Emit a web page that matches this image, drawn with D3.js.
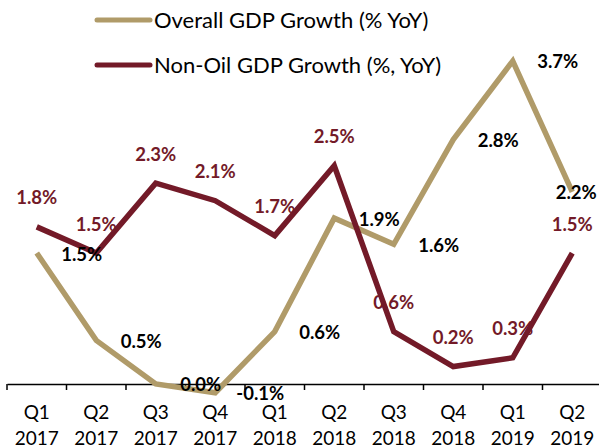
<!DOCTYPE html>
<html>
<head>
<meta charset="utf-8">
<script src="https://cdn.jsdelivr.net/npm/d3@7"></script>
<style>
  body { margin: 0; background: #fff; }
  svg text { font-family: Lato, "Open Sans", sans-serif; }
</style>
</head>
<body>
<div id="chart"></div>
<script>
var quarters = ["Q1", "Q2", "Q3", "Q4", "Q1", "Q2", "Q3", "Q4", "Q1", "Q2"];
var years = ["2017", "2017", "2017", "2017", "2018", "2018", "2018", "2018", "2019", "2019"];
var overallGdp = [1.5, 0.5, 0.0, -0.1, 0.6, 1.9, 1.6, 2.8, 3.7, 2.2];
var nonOilGdp = [1.8, 1.5, 2.3, 2.1, 1.7, 2.5, 0.6, 0.2, 0.3, 1.5];
var seriesNames = ["Overall GDP Growth (% YoY)", "Non-Oil GDP Growth (%, YoY)"];

// label placement per point (like excel data label position)
var overallLabelPos = ["right", "right", "right", "right", "right", "right", "right", "right", "right", "center"];

var width = 599, height = 448;
var gold = "#b09b69", maroon = "#731a28";

var svg = d3.select("#chart").append("svg")
	.attr("width", width)
	.attr("height", height);

var cats = quarters.map(function(q, i) { return i; });

var x = d3.scaleBand()
	.domain(cats)
	.range([7, 602])
	.padding(0);

var y = d3.scaleLinear()
	.domain([0, 3.7])
	.range([384, 61]);

// x axis at zero
var axis = d3.axisBottom(x)
	.tickSize(0)
	.tickFormat("");
var gx = svg.append("g")
	.attr("transform", "translate(0," + y(0) + ")")
	.call(axis);
gx.select(".domain").attr("stroke", "#000").attr("stroke-width", 1.5);

// tick marks on band boundaries
svg.selectAll(".tickmark")
	.data(cats)
	.enter()
	.append("line")
	.attr("class", "tickmark")
	.attr("x1", function(d) { return x(d); })
	.attr("x2", function(d) { return x(d); })
	.attr("y1", y(0))
	.attr("y2", y(0) + 6)
	.attr("stroke", "#000")
	.attr("stroke-width", 1.5);

var mid = function(i) { return x(i) + x.bandwidth() / 2; };

svg.selectAll(".qlab")
	.data(cats)
	.enter()
	.append("text")
	.attr("x", function(d) { return mid(d); })
	.attr("y", 419)
	.attr("text-anchor", "middle")
	.attr("font-size", "19px")
	.attr("fill", "#000")
	.text(function(d) { return quarters[d]; });

svg.selectAll(".ylab")
	.data(cats)
	.enter()
	.append("text")
	.attr("x", function(d) { return mid(d); })
	.attr("y", 445)
	.attr("text-anchor", "middle")
	.attr("font-size", "19px")
	.attr("fill", "#000")
	.text(function(d) { return years[d]; });

var line = d3.line()
	.x(function(d, i) { return mid(i); })
	.y(function(d) { return y(d); });

svg.append("path")
	.datum(overallGdp)
	.attr("d", line)
	.attr("fill", "none")
	.attr("stroke", gold)
	.attr("stroke-width", 5.5)
	.attr("stroke-linejoin", "miter");

svg.append("path")
	.datum(nonOilGdp)
	.attr("d", line)
	.attr("fill", "none")
	.attr("stroke", maroon)
	.attr("stroke-width", 5.5)
	.attr("stroke-linejoin", "miter");

var fmt = function(v) { return v.toFixed(1) + "%"; };

// non-oil labels, above
svg.selectAll(".nlab")
	.data(nonOilGdp)
	.enter()
	.append("text")
	.attr("x", function(d, i) { return mid(i); })
	.attr("y", function(d) { return y(d) - 29; })
	.attr("dy", "0.35em")
	.attr("text-anchor", "middle")
	.attr("font-size", "18.5px")
	.attr("font-weight", "bold")
	.attr("fill", maroon)
	.text(fmt);

// overall labels, right
svg.selectAll(".olab")
	.data(overallGdp)
	.enter()
	.append("text")
	.attr("x", function(d, i) { return overallLabelPos[i] == "right" ? mid(i) + 45 : mid(i) + 4; })
	.attr("y", function(d) { return y(d) + 1; })
	.attr("dy", "0.35em")
	.attr("text-anchor", "middle")
	.attr("font-size", "18.5px")
	.attr("font-weight", "bold")
	.attr("fill", "#000")
	.text(fmt);

// legend
var legend = svg.selectAll(".legend")
	.data(seriesNames)
	.enter()
	.append("g")
	.attr("transform", function(d, i) { return "translate(97," + (20 + i * 45) + ")"; });

legend.append("line")
	.attr("x1", 0)
	.attr("x2", 53)
	.attr("stroke", function(d, i) { return i == 0 ? gold : maroon; })
	.attr("stroke-width", 5)
	.attr("stroke-linecap", "round");

legend.append("text")
	.attr("x", 57)
	.attr("dy", "0.35em")
	.attr("font-size", "22px")
	.attr("fill", "#000")
	.text(function(d) { return d; });
</script>
</body>
</html>
